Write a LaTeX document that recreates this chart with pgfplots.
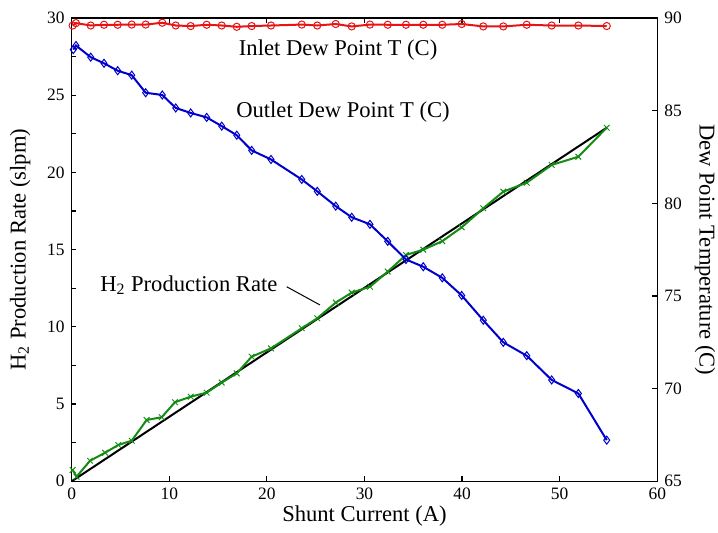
\documentclass[border=0pt]{standalone}
\usepackage{fontspec}
\setmainfont{Liberation Serif}
\usepackage{pgfplots}
\pgfplotsset{compat=1.18}

\definecolor{inletred}{RGB}{230,20,20}
\definecolor{outletblue}{RGB}{0,0,205}
\definecolor{rategreen}{RGB}{20,140,20}

\pgfplotsset{
  dewbase/.style={
    scale only axis, width=292.8pt, height=231.6pt,
    xmin=0, xmax=60,
    /pgf/number format/assume math mode=true,
    tick label style={font=\fontsize{8.7}{10}\selectfont},
    label style={font=\fontsize{11.3}{13}\selectfont},
    axis line style={line width=0.75pt},
    tick align=inside,
    major tick length=2.4pt, minor tick length=2.4pt,
    every tick/.style={line width=0.6pt, black},
    clip=false,
  },
}

\begin{document}
\begin{tikzpicture}
\path[use as bounding box] (-35.85pt,-25.85pt) rectangle (323.15pt,240.65pt);

\begin{axis}[dewbase,
  ymin=0, ymax=30,
  xtick={0,10,...,60}, ytick={0,5,...,30},
  minor ytick={2.5,7.5,...,27.5},
  ytick pos=left,
  xlabel={Shunt Current (A)},
  ylabel={H\textsubscript{2} Production Rate (slpm)},
  xlabel style={at={(axis description cs:0.5,-0.076)}, anchor=center},
  ylabel style={at={(axis description cs:-0.088,0.5)}, anchor=center},
]
\addplot[black, line width=1pt] coordinates {(0,0)(54.82,22.9)};
\addplot[rategreen, line width=1pt, mark=x, mark size=2pt,
  mark options={line width=0.5pt}] coordinates {
  (0.1,0.73)(0.5,0.30)(1.88,1.33)(3.42,1.85)(4.77,2.35)(6.15,2.63)
  (7.68,3.97)(9.22,4.15)(10.58,5.12)(12.19,5.48)(13.83,5.74)(15.37,6.39)
  (16.91,6.99)(18.44,8.07)(20.42,8.61)(23.57,9.91)(25.16,10.56)(27.05,11.57)
  (28.69,12.22)(30.56,12.60)(32.38,13.58)(34.25,14.66)(36.02,15.0)
  (37.97,15.55)(39.96,16.45)(42.17,17.68)(44.22,18.76)(46.62,19.34)
  (49.18,20.49)(51.91,21.02)(54.82,22.90)};
\node[font=\fontsize{11.3}{13}\selectfont] at (axis cs:27.3,27.9) {Inlet Dew Point T (C)};
\node[font=\fontsize{11.3}{13}\selectfont] at (axis cs:27.8,23.9) {Outlet Dew Point T (C)};
\node[font=\fontsize{11.3}{13}\selectfont, anchor=base] at (axis cs:12.0,12.28) {H\textsubscript{2} Production Rate};
\draw[black, line width=0.5pt] (axis cs:22.03,12.60) -- (axis cs:25.44,11.42);
\end{axis}

\begin{axis}[dewbase,
  ymin=65, ymax=90,
  ytick={65,70,...,90},
  axis y line*=right, axis x line=none,
  ylabel={Dew Point Temperature (C)},
  ylabel style={at={(axis description cs:1.0815,0.5)}, anchor=center, rotate=180},
]
\addplot[inletred, line width=1pt, mark=o, mark size=1.8pt,
  mark options={line width=0.5pt}] coordinates {
  (0.1,89.60)(0.44,89.73)(1.95,89.60)(3.31,89.64)(4.71,89.64)(6.15,89.65)
  (7.58,89.65)(9.28,89.75)(10.66,89.60)(12.19,89.57)(13.83,89.64)(15.37,89.60)
  (16.91,89.53)(18.44,89.57)(20.42,89.60)(23.57,89.65)(25.16,89.60)(27.05,89.68)
  (28.69,89.55)(30.56,89.65)(32.38,89.64)(34.25,89.64)(36.02,89.64)(37.97,89.64)
  (39.96,89.68)(42.17,89.55)(44.22,89.55)(46.62,89.64)(49.18,89.60)(51.91,89.60)
  (54.82,89.57)};
\addplot[outletblue, line width=1pt, mark=diamond, mark size=2pt,
  mark options={line width=0.5pt}] coordinates {
  (0.16,88.30)(0.44,88.52)(1.95,87.89)(3.31,87.56)(4.71,87.16)(6.15,86.92)
  (7.58,85.97)(9.28,85.85)(10.66,85.15)(12.19,84.88)(13.83,84.64)(15.37,84.17)
  (16.91,83.68)(18.44,82.86)(20.42,82.37)(23.57,81.29)(25.16,80.65)(27.05,79.85)
  (28.69,79.25)(30.56,78.87)(32.38,77.95)(34.25,76.97)(36.02,76.58)(37.97,75.98)
  (39.96,75.03)(42.17,73.69)(44.22,72.50)(46.62,71.78)(49.18,70.47)(51.91,69.74)
  (54.82,67.22)};
\end{axis}
\end{tikzpicture}
\end{document}
